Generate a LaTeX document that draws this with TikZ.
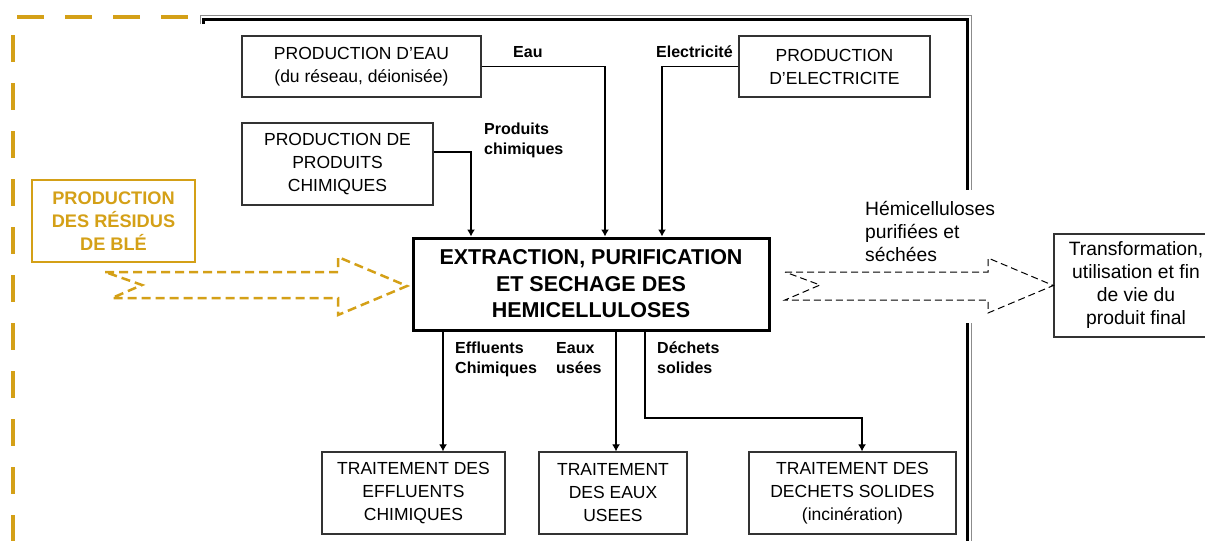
\documentclass[tikz,border=0pt]{standalone}
\usepackage{fontspec}
\setmainfont{Liberation Sans}
\usetikzlibrary{arrows.meta}
\definecolor{ble}{RGB}{212,160,23}
\begin{document}
\begin{tikzpicture}[x=1pt,y=-1pt,
  box/.style={draw=black!80,line width=1.3pt,align=center,inner sep=0pt,
    font=\fontsize{17.5}{23}\selectfont},
  lbl/.style={anchor=base west,align=left,inner sep=0pt,
    font=\bfseries\fontsize{16}{20}\selectfont},
  arr/.style={line width=1.2pt,-{Latex[length=7pt,width=8pt]}},
  frame/.style={line width=3pt},
  frameout/.style={black!45,line width=0.8pt},
  goldframe/.style={ble,line width=4pt,dash pattern=on 27pt off 21pt}]
  \useasboundingbox (0,0) rectangle (1205,541);
  % cadres
  \draw[goldframe] (17,17) -- (188,17);
  \draw[goldframe] (13,35) -- (13,541);
  \draw[frameout] (200.5,24) -- (200.5,15.5) -- (971,15.5) -- (971,190);
  \draw[frameout] (971,323) -- (971,541);
  \draw[frame] (203,24) -- (203,19.5) -- (967.5,19.5) -- (967.5,190);
  \draw[frame] (967.5,323) -- (967.5,541);
  % boites
  \node[box,minimum width=239pt,minimum height=61pt] (eau) at (361.5,66.5)
    {PRODUCTION D'EAU\\(du réseau, déionisée)};
  \node[box,minimum width=191pt,minimum height=61pt] (elec) at (834.5,66.5)
    {PRODUCTION\\D'ELECTRICITE};
  \node[box,minimum width=191pt,minimum height=82pt] (chim) at (337.5,164)
    {PRODUCTION DE\\PRODUITS\\CHIMIQUES};
  \node[box,draw=ble,text=ble,font=\bfseries\fontsize{18.2}{23}\selectfont,
    minimum width=163pt,minimum height=82pt] (ble) at (113.5,221)
    {PRODUCTION\\DES RÉSIDUS\\DE BLÉ};
  \node[box,draw=black,line width=3pt,font=\bfseries\fontsize{21.5}{26.5}\selectfont,
    minimum width=356pt,minimum height=92pt] (ext) at (591,284)
    {EXTRACTION, PURIFICATION\\ET SECHAGE DES\\HEMICELLULOSES};
  \node[box,font=\fontsize{19.3}{23}\selectfont,
    minimum width=164pt,minimum height=103pt] (trans) at (1136,285.5)
    {Transformation,\\utilisation et fin\\de vie du\\produit final};
  \node[box,minimum width=183pt,minimum height=82pt] (eff) at (413.5,493)
    {TRAITEMENT DES\\EFFLUENTS\\CHIMIQUES};
  \node[box,minimum width=148pt,minimum height=82pt] (eaux) at (613,493)
    {TRAITEMENT\\DES EAUX\\USEES};
  \node[box,minimum width=207pt,minimum height=82pt] (dech) at (852.5,493)
    {TRAITEMENT DES\\DECHETS SOLIDES\\(incinération)};
  % fleches creuses
  \draw[ble,line width=2.5pt,dash pattern=on 9pt off 5pt]
    (105,272) -- (338,272) -- (338,257) -- (407,286) -- (338,315)
    -- (338,298) -- (112,298) -- (142,285) -- cycle;
  \draw[line width=1pt,dash pattern=on 7pt off 4pt]
    (785,272) -- (988,272) -- (988,258) -- (trans.west) -- (988,313)
    -- (988,300) -- (785,300) -- (820,285) -- cycle;
  % flux entrants
  \draw[arr] (eau.east) -| ([xshift=14pt]ext.north);
  \draw[arr] (elec.west) -| ([xshift=71pt]ext.north);
  \draw[arr] ([yshift=12pt]chim.east) -| ([xshift=-120pt]ext.north);
  % flux sortants
  \coordinate (dbend) at (862,418);
  \draw[arr] ([xshift=-148pt]ext.south) -- ([xshift=-148pt]ext.south |- eff.north);
  \draw[arr] ([xshift=25pt]ext.south) -- ([xshift=25pt]ext.south |- eaux.north);
  \draw[arr] ([xshift=54pt]ext.south) |- (dbend) -- (dbend |- dech.north);
  % etiquettes (base = derniere ligne)
  \node[lbl] (l-eau) at (513,57.7) {Eau};
  \node[lbl] (l-elec) at (656,57.7) {Electricité};
  \node[lbl] (l-chim) at (484,154.7) {Produits\\chimiques};
  \node[lbl] (l-eff) at (455,373.7) {Effluents\\Chimiques};
  \node[lbl] (l-eaux) at (556,373.7) {Eaux\\usées};
  \node[lbl] (l-dech) at (657,373.7) {Déchets\\solides};
  \node[lbl,font=\fontsize{19.3}{23}\selectfont] (l-hemi) at (865,261)
    {Hémicelluloses\\purifiées et\\séchées};
\end{tikzpicture}
\end{document}
